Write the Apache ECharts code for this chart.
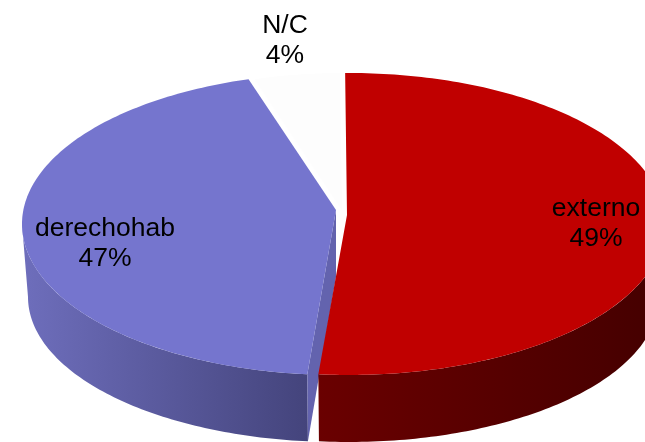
<!DOCTYPE html>
<html>
<head>
<meta charset="utf-8">
<style>html,body{margin:0;padding:0;background:#fff}#c{width:645px;height:442px}</style>
<script src="https://cdn.jsdelivr.net/npm/echarts@6/dist/echarts.min.js"></script>
</head>
<body>
<div id="c"></div>
<script>
const categories = ['externo', 'derechohab', 'N/C'];
const shares = [49, 47, 4];
const tickLabels = ['49%', '47%', '4%'];

// drawing style of each slice: colours, explosion and label anchor
const looks = [
  { top: '#C00000', wall: ['#6A0000', '#440000'], cut: '#7A0000', dx: 0, apexDy: -9, z: 3, label: [596, 223.5] },
  { top: '#7575CE', wall: ['#6E6EBC', '#44447C'], cut: '#6363AE', dx: -11, apexDy: -14, z: 2, label: [105, 243.5] },
  { top: '#FDFDFD', wall: null, cut: null, dx: -5, apexDy: -14, z: 1, label: [285, 40.5] }
];
const pie = { cx: 349, cy: 224, rx: 316, ry: 151, depth: 73, shrink: 6, apexDepth: 67 };
const D = Math.PI / 180;

// the view's perspective stretches the near part of the disc
function rimAngle(a) {
  const s = Math.sin(a * D / 2);
  return a - 0.7 + 9.5 * s * s + 6 * Math.sin(a * D);
}
function topPt(l, t) {
  return [pie.cx + l.dx + pie.rx * Math.sin(t * D), pie.cy - pie.ry * Math.cos(t * D)];
}
function botPt(l, t) {
  return [pie.cx + l.dx + (pie.rx - pie.shrink) * Math.sin(t * D),
          pie.cy + pie.depth - (pie.ry - pie.shrink) * Math.cos(t * D)];
}
function arc(fn, l, t0, t1) {
  const pts = [], n = Math.max(2, Math.ceil(Math.abs(t1 - t0)));
  for (let i = 0; i <= n; i++) pts.push(fn(l, t0 + (t1 - t0) * i / n));
  return pts;
}
const total = shares.reduce((p, v) => p + v, 0);

function renderItem(params, api) {
  const i = params.dataIndex, l = looks[i];
  let before = 0;
  for (let k = 0; k < i; k++) before += shares[k];
  const t0 = rimAngle(before / total * 360);
  const t1 = rimAngle((before + api.value(0)) / total * 360);
  const apex = [pie.cx + l.dx - 2, pie.cy + l.apexDy];
  const apexB = [apex[0], apex[1] + pie.apexDepth];
  const kids = [];

  if (l.wall) {
    const w0 = Math.max(t0, 90), w1 = Math.min(t1, 270);
    if (w1 > w0) {
      const pts = arc(topPt, l, w0, w1).concat(arc(botPt, l, w1, w0));
      const xs = pts.map(p => p[0]);
      const grad = new echarts.graphic.LinearGradient(
        Math.min(...xs), 0, Math.max(...xs), 0,
        [{ offset: 0, color: l.wall[0] }, { offset: 1, color: l.wall[1] }],
        true);
      kids.push({ type: 'polygon', shape: { points: pts }, style: { fill: grad }, z2: l.z * 10 });
    }
    if (l.cut && t0 > 90 && t0 < 270) {
      const r = topPt(l, t0), b = botPt(l, t0);
      kids.push({ type: 'polygon', shape: { points: [apex, r, b, apexB] }, style: { fill: l.cut }, z2: l.z * 10 + 1 });
    }
  }
  kids.push({
    type: 'polygon',
    shape: { points: [apex].concat(arc(topPt, l, t0, t1)) },
    style: { fill: l.top },
    z2: l.z * 10 + 2
  });
  kids.push({
    type: 'text',
    style: {
      text: categories[i] + '\n' + tickLabels[i],
      x: l.label[0], y: l.label[1],
      align: 'center', verticalAlign: 'middle',
      fontFamily: '"Liberation Sans", Arial, sans-serif', fontSize: 26.5, lineHeight: 30,
      fill: '#000'
    },
    z2: 100
  });
  return { type: 'group', children: kids };
}

const chart = echarts.init(document.getElementById('c'), null, { renderer: 'canvas' });
chart.setOption({
  animation: false,
  backgroundColor: '#fff',
  series: [{
    type: 'custom',
    coordinateSystem: 'none',
    clip: false,
    silent: true,
    renderItem,
    data: shares.map((v, i) => ({ name: categories[i], value: [v] }))
  }]
});
</script>
</body>
</html>
